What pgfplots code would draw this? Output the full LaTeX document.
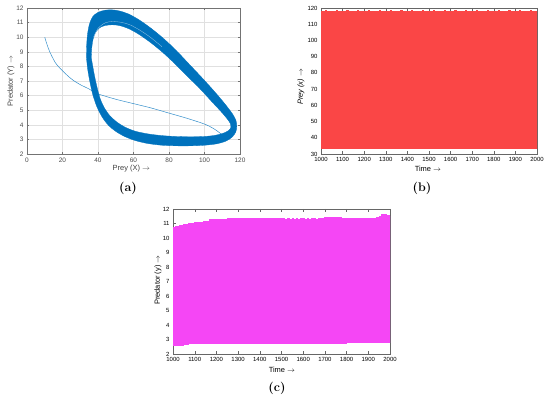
\documentclass[border=0pt]{standalone}
\usepackage{pgfplots}
\pgfplotsset{compat=1.18}
\usepackage{fontspec}
\setsansfont{Liberation Sans}
\definecolor{matblue}{RGB}{0,114,189}
\definecolor{preyred}{RGB}{250,70,70}
\definecolor{predmag}{RGB}{245,70,245}
\begin{document}
\begin{tikzpicture}
\path[use as bounding box] (0bp,0bp) rectangle (550bp,399bp);
\pgfplotsset{
  every axis/.append style={scale only axis, anchor=south west,
    /pgf/number format/assume math mode=true,
    /pgf/number format/1000 sep={},
    tick align=inside,
    ticklabel style={font=\sffamily\fontsize{6}{7}\selectfont},
    label style={font=\sffamily\fontsize{7.5}{9}\selectfont},
  }
}
% ---------------- (a) phase portrait ----------------
\begin{axis}[at={(27bp,245bp)}, width=213bp, height=146bp,
  xmin=0, xmax=120, ymin=2, ymax=12,
  xtick={0,20,...,120}, ytick={2,3,...,12},
  grid=major, major grid style={black!12, line width=0.4bp},
  axis line style={black!55, line width=0.5bp},
  major tick style={black!55, line width=0.4bp}, major tick length=2bp,
  ticklabel style={text=black!70, font=\sffamily\fontsize{6.5}{7}\selectfont},
  xlabel={Prey (X) $\rightarrow$}, ylabel={Predator (Y) $\rightarrow$},
  xlabel style={at={(axis description cs:0.49,-0.103)}, anchor=center, text=black!75},
  ylabel style={at={(axis description cs:-0.075,0.5)}, anchor=center, text=black!75},
]
\addplot[matblue!80, line width=0.5bp, smooth] coordinates {
(10,10)(11,9.6)(12,9.25)(13,8.95)(14,8.7)(16,8.25)(18,7.95)(20,7.7)(23,7.35)(26,7.05)
(30,6.75)(35,6.45)(40,6.12)(50,5.75)(60,5.45)(70,5.15)(80,4.8)(90,4.45)(100,4.05)
(105,3.75)(108,3.5)(110,3.3)};
\addplot[draw=matblue, line width=0.3bp, fill=matblue, even odd rule, smooth, tension=0.5, unbounded coords=jump] coordinates {
(33.5,8.6)(33.6,9.4)(34.1,10.2)(35.2,10.9)(37,11.4)(40,11.7)(44,11.85)(48,11.87)(52,11.8)
(57,11.6)(63,11.2)(70,10.6)(77,9.9)(84,9.1)(91,8.2)(98,7.3)(104,6.5)(109,5.8)(113,5.2)
(116,4.7)(117.7,4.3)(118.2,3.9)(117.6,3.5)(115.5,3.15)(112,2.88)(107,2.7)(100,2.6)(92,2.56)
(84,2.56)(76,2.6)(68,2.72)(61,2.92)(55,3.2)(50,3.55)(46,3.95)(42.5,4.5)(39.5,5.2)(37.2,6.0)
(35.5,6.9)(34.2,7.8)(33.5,8.6)
(nan,nan)
(36.2,8.6)(36.5,9.3)(37.3,9.9)(38.8,10.35)(41,10.65)(44,10.8)(48,10.85)(52,10.8)(57,10.6)
(63,10.2)(70,9.6)(77,8.9)(84,8.1)(91,7.25)(98,6.4)(104,5.6)(109,4.95)(112.5,4.45)(114.5,4.1)
(114.8,3.8)(113.5,3.6)(110.5,3.42)(106,3.28)(100,3.2)(92,3.18)(84,3.2)(76,3.26)(68,3.38)
(61,3.56)(55,3.85)(50.5,4.2)(46.5,4.65)(43.5,5.18)(41.2,5.8)(39.4,6.6)(37.8,7.5)(36.2,8.6)};
\addplot[white, opacity=0.6, line width=0.3bp, smooth] coordinates {
(37.5,10.0)(40,10.6)(44,10.98)(48,11.07)(53,11.02)(58,10.85)(64,10.45)(70,9.95)(76,9.35)};
\end{axis}
% ---------------- (b) prey time series ----------------
\begin{axis}[at={(321bp,245bp)}, width=216bp, height=146bp,
  xmin=1000, xmax=2000, ymin=30, ymax=120,
  xtick={1000,1100,...,2000}, ytick={30,40,...,120},
  axis line style={black!60, line width=0.5bp},
  major tick style={black!60, line width=0.4bp}, major tick length=3bp,
  xlabel={Time $\rightarrow$}, ylabel={\itshape Prey (x) $\rightarrow$},
  xlabel style={at={(axis description cs:0.495,-0.103)}, anchor=center},
  ylabel style={at={(axis description cs:-0.093,0.46)}, anchor=center},
]
\addplot[preyred, line width=1.2bp] coordinates {
(1000,33.5)(1000,118)(1005,118)(1005,33.6)(1010,33.6)(1010,117.9)(1015,117.9)(1015,33.4)(1020,33.4)(1020,118.1)(1025,118.1)(1025,33.5)(1030,33.5)(1030,118)(1035,118)(1035,33.6)(1040,33.6)(1040,117.9)(1045,117.9)(1045,33.5)
(1050,33.5)(1050,118)(1055,118)(1055,33.6)(1060,33.6)(1060,117.9)(1065,117.9)(1065,33.4)(1070,33.4)(1070,118.1)(1075,118.1)(1075,33.5)(1080,33.5)(1080,118)(1085,118)(1085,33.6)(1090,33.6)(1090,117.9)(1095,117.9)(1095,33.5)
(1100,33.5)(1100,118)(1105,118)(1105,33.6)(1110,33.6)(1110,117.9)(1115,117.9)(1115,33.4)(1120,33.4)(1120,118.1)(1125,118.1)(1125,33.5)(1130,33.5)(1130,118)(1135,118)(1135,33.6)(1140,33.6)(1140,117.9)(1145,117.9)(1145,33.5)
(1150,33.5)(1150,118)(1155,118)(1155,33.6)(1160,33.6)(1160,117.9)(1165,117.9)(1165,33.4)(1170,33.4)(1170,118.1)(1175,118.1)(1175,33.5)(1180,33.5)(1180,118)(1185,118)(1185,33.6)(1190,33.6)(1190,117.9)(1195,117.9)(1195,33.5)
(1200,33.5)(1200,118)(1205,118)(1205,33.6)(1210,33.6)(1210,117.9)(1215,117.9)(1215,33.4)(1220,33.4)(1220,118.1)(1225,118.1)(1225,33.5)(1230,33.5)(1230,118)(1235,118)(1235,33.6)(1240,33.6)(1240,117.9)(1245,117.9)(1245,33.5)
(1250,33.5)(1250,118)(1255,118)(1255,33.6)(1260,33.6)(1260,117.9)(1265,117.9)(1265,33.4)(1270,33.4)(1270,118.1)(1275,118.1)(1275,33.5)(1280,33.5)(1280,118)(1285,118)(1285,33.6)(1290,33.6)(1290,117.9)(1295,117.9)(1295,33.5)
(1300,33.5)(1300,118)(1305,118)(1305,33.6)(1310,33.6)(1310,117.9)(1315,117.9)(1315,33.4)(1320,33.4)(1320,118.1)(1325,118.1)(1325,33.5)(1330,33.5)(1330,118)(1335,118)(1335,33.6)(1340,33.6)(1340,117.9)(1345,117.9)(1345,33.5)
(1350,33.5)(1350,118)(1355,118)(1355,33.6)(1360,33.6)(1360,117.9)(1365,117.9)(1365,33.4)(1370,33.4)(1370,118.1)(1375,118.1)(1375,33.5)(1380,33.5)(1380,118)(1385,118)(1385,33.6)(1390,33.6)(1390,117.9)(1395,117.9)(1395,33.5)
(1400,33.5)(1400,118)(1405,118)(1405,33.6)(1410,33.6)(1410,117.9)(1415,117.9)(1415,33.4)(1420,33.4)(1420,118.1)(1425,118.1)(1425,33.5)(1430,33.5)(1430,118)(1435,118)(1435,33.6)(1440,33.6)(1440,117.9)(1445,117.9)(1445,33.5)
(1450,33.5)(1450,118)(1455,118)(1455,33.6)(1460,33.6)(1460,117.9)(1465,117.9)(1465,33.4)(1470,33.4)(1470,118.1)(1475,118.1)(1475,33.5)(1480,33.5)(1480,118)(1485,118)(1485,33.6)(1490,33.6)(1490,117.9)(1495,117.9)(1495,33.5)
(1500,33.5)(1500,118)(1505,118)(1505,33.6)(1510,33.6)(1510,117.9)(1515,117.9)(1515,33.4)(1520,33.4)(1520,118.1)(1525,118.1)(1525,33.5)(1530,33.5)(1530,118)(1535,118)(1535,33.6)(1540,33.6)(1540,117.9)(1545,117.9)(1545,33.5)
(1550,33.5)(1550,118)(1555,118)(1555,33.6)(1560,33.6)(1560,117.9)(1565,117.9)(1565,33.4)(1570,33.4)(1570,118.1)(1575,118.1)(1575,33.5)(1580,33.5)(1580,118)(1585,118)(1585,33.6)(1590,33.6)(1590,117.9)(1595,117.9)(1595,33.5)
(1600,33.5)(1600,118)(1605,118)(1605,33.6)(1610,33.6)(1610,117.9)(1615,117.9)(1615,33.4)(1620,33.4)(1620,118.1)(1625,118.1)(1625,33.5)(1630,33.5)(1630,118)(1635,118)(1635,33.6)(1640,33.6)(1640,117.9)(1645,117.9)(1645,33.5)
(1650,33.5)(1650,118)(1655,118)(1655,33.6)(1660,33.6)(1660,117.9)(1665,117.9)(1665,33.4)(1670,33.4)(1670,118.1)(1675,118.1)(1675,33.5)(1680,33.5)(1680,118)(1685,118)(1685,33.6)(1690,33.6)(1690,117.9)(1695,117.9)(1695,33.5)
(1700,33.5)(1700,118)(1705,118)(1705,33.6)(1710,33.6)(1710,117.9)(1715,117.9)(1715,33.4)(1720,33.4)(1720,118.1)(1725,118.1)(1725,33.5)(1730,33.5)(1730,118)(1735,118)(1735,33.6)(1740,33.6)(1740,117.9)(1745,117.9)(1745,33.5)
(1750,33.5)(1750,118)(1755,118)(1755,33.6)(1760,33.6)(1760,117.9)(1765,117.9)(1765,33.4)(1770,33.4)(1770,118.1)(1775,118.1)(1775,33.5)(1780,33.5)(1780,118)(1785,118)(1785,33.6)(1790,33.6)(1790,117.9)(1795,117.9)(1795,33.5)
(1800,33.5)(1800,118)(1805,118)(1805,33.6)(1810,33.6)(1810,117.9)(1815,117.9)(1815,33.4)(1820,33.4)(1820,118.1)(1825,118.1)(1825,33.5)(1830,33.5)(1830,118)(1835,118)(1835,33.6)(1840,33.6)(1840,117.9)(1845,117.9)(1845,33.5)
(1850,33.5)(1850,118)(1855,118)(1855,33.6)(1860,33.6)(1860,117.9)(1865,117.9)(1865,33.4)(1870,33.4)(1870,118.1)(1875,118.1)(1875,33.5)(1880,33.5)(1880,118)(1885,118)(1885,33.6)(1890,33.6)(1890,117.9)(1895,117.9)(1895,33.5)
(1900,33.5)(1900,118)(1905,118)(1905,33.6)(1910,33.6)(1910,117.9)(1915,117.9)(1915,33.4)(1920,33.4)(1920,118.1)(1925,118.1)(1925,33.5)(1930,33.5)(1930,118)(1935,118)(1935,33.6)(1940,33.6)(1940,117.9)(1945,117.9)(1945,33.5)
(1950,33.5)(1950,118)(1955,118)(1955,33.6)(1960,33.6)(1960,117.9)(1965,117.9)(1965,33.4)(1970,33.4)(1970,118.1)(1975,118.1)(1975,33.5)(1980,33.5)(1980,118)(1985,118)(1985,33.6)(1990,33.6)(1990,117.9)(1995,117.9)(1995,33.5)
(2000,33.5)(2000,118)};
\end{axis}
% ---------------- (c) predator time series ----------------
\begin{axis}[at={(173bp,45bp)}, width=217bp, height=145bp,
  xmin=1000, xmax=2000, ymin=2, ymax=12,
  xtick={1000,1100,...,2000}, ytick={2,3,...,12},
  axis line style={black!60, line width=0.5bp},
  major tick style={black!60, line width=0.4bp}, major tick length=3bp,
  xlabel={Time $\rightarrow$}, ylabel={Predator (y) $\rightarrow$},
  xlabel style={at={(axis description cs:0.502,-0.11)}, anchor=center},
  ylabel style={at={(axis description cs:-0.069,0.51)}, anchor=center},
]
\addplot[predmag, line width=1.2bp] coordinates {
(1000,2.58)(1000,10.75)(1005,10.75)(1005,2.58)(1010,2.58)(1010,10.78)(1015,10.78)(1015,2.58)(1020,2.58)(1020,10.8)(1025,10.8)(1025,2.58)(1030,2.58)(1030,10.84)(1035,10.84)(1035,2.58)(1040,2.58)(1040,10.87)(1045,10.87)(1045,2.6)
(1050,2.6)(1050,10.9)(1055,10.9)(1055,2.65)(1060,2.65)(1060,10.94)(1065,10.94)(1065,2.68)(1070,2.68)(1070,10.97)(1075,10.97)(1075,2.7)(1080,2.7)(1080,11.0)(1085,11.0)(1085,2.7)(1090,2.7)(1090,11.02)(1095,11.02)(1095,2.7)
(1100,2.7)(1100,11.03)(1105,11.03)(1105,2.7)(1110,2.7)(1110,11.05)(1115,11.05)(1115,2.7)(1120,2.7)(1120,11.06)(1125,11.06)(1125,2.7)(1130,2.7)(1130,11.08)(1135,11.08)(1135,2.7)(1140,2.7)(1140,11.1)(1145,11.1)(1145,2.7)
(1150,2.7)(1150,11.12)(1155,11.12)(1155,2.7)(1160,2.7)(1160,11.15)(1165,11.15)(1165,2.7)(1170,2.7)(1170,11.24)(1175,11.24)(1175,2.7)(1180,2.7)(1180,11.26)(1185,11.26)(1185,2.7)(1190,2.7)(1190,11.27)(1195,11.27)(1195,2.7)
(1200,2.7)(1200,11.28)(1205,11.28)(1205,2.7)(1210,2.7)(1210,11.28)(1215,11.28)(1215,2.7)(1220,2.7)(1220,11.29)(1225,11.29)(1225,2.7)(1230,2.7)(1230,11.3)(1235,11.3)(1235,2.7)(1240,2.7)(1240,11.3)(1245,11.3)(1245,2.7)
(1250,2.7)(1250,11.31)(1255,11.31)(1255,2.7)(1260,2.7)(1260,11.31)(1265,11.31)(1265,2.7)(1270,2.7)(1270,11.32)(1275,11.32)(1275,2.7)(1280,2.7)(1280,11.32)(1285,11.32)(1285,2.7)(1290,2.7)(1290,11.32)(1295,11.32)(1295,2.7)
(1300,2.7)(1300,11.33)(1305,11.33)(1305,2.7)(1310,2.7)(1310,11.33)(1315,11.33)(1315,2.7)(1320,2.7)(1320,11.34)(1325,11.34)(1325,2.7)(1330,2.7)(1330,11.33)(1335,11.33)(1335,2.7)(1340,2.7)(1340,11.34)(1345,11.34)(1345,2.7)
(1350,2.7)(1350,11.33)(1355,11.33)(1355,2.7)(1360,2.7)(1360,11.33)(1365,11.33)(1365,2.7)(1370,2.7)(1370,11.34)(1375,11.34)(1375,2.7)(1380,2.7)(1380,11.33)(1385,11.33)(1385,2.7)(1390,2.7)(1390,11.34)(1395,11.34)(1395,2.7)
(1400,2.7)(1400,11.33)(1405,11.33)(1405,2.7)(1410,2.7)(1410,11.33)(1415,11.33)(1415,2.7)(1420,2.7)(1420,11.34)(1425,11.34)(1425,2.7)(1430,2.7)(1430,11.33)(1435,11.33)(1435,2.7)(1440,2.7)(1440,11.34)(1445,11.34)(1445,2.7)
(1450,2.7)(1450,11.33)(1455,11.33)(1455,2.7)(1460,2.7)(1460,11.33)(1465,11.33)(1465,2.7)(1470,2.7)(1470,11.34)(1475,11.34)(1475,2.7)(1480,2.7)(1480,11.33)(1485,11.33)(1485,2.7)(1490,2.7)(1490,11.34)(1495,11.34)(1495,2.7)
(1500,2.7)(1500,11.32)(1505,11.32)(1505,2.7)(1510,2.7)(1510,11.31)(1515,11.31)(1515,2.7)(1520,2.7)(1520,11.3)(1525,11.3)(1525,2.7)(1530,2.7)(1530,11.31)(1535,11.31)(1535,2.7)(1540,2.7)(1540,11.3)(1545,11.3)(1545,2.7)
(1550,2.7)(1550,11.31)(1555,11.31)(1555,2.7)(1560,2.7)(1560,11.3)(1565,11.3)(1565,2.7)(1570,2.7)(1570,11.31)(1575,11.31)(1575,2.7)(1580,2.7)(1580,11.3)(1585,11.3)(1585,2.7)(1590,2.7)(1590,11.31)(1595,11.31)(1595,2.7)
(1600,2.7)(1600,11.31)(1605,11.31)(1605,2.7)(1610,2.7)(1610,11.3)(1615,11.3)(1615,2.7)(1620,2.7)(1620,11.31)(1625,11.31)(1625,2.7)(1630,2.7)(1630,11.3)(1635,11.3)(1635,2.7)(1640,2.7)(1640,11.31)(1645,11.31)(1645,2.7)
(1650,2.7)(1650,11.31)(1655,11.31)(1655,2.7)(1660,2.7)(1660,11.3)(1665,11.3)(1665,2.7)(1670,2.7)(1670,11.32)(1675,11.32)(1675,2.7)(1680,2.7)(1680,11.34)(1685,11.34)(1685,2.7)(1690,2.7)(1690,11.36)(1695,11.36)(1695,2.7)
(1700,2.7)(1700,11.38)(1705,11.38)(1705,2.73)(1710,2.73)(1710,11.4)(1715,11.4)(1715,2.75)(1720,2.75)(1720,11.41)(1725,11.41)(1725,2.75)(1730,2.75)(1730,11.42)(1735,11.42)(1735,2.75)(1740,2.75)(1740,11.42)(1745,11.42)(1745,2.75)
(1750,2.75)(1750,11.41)(1755,11.41)(1755,2.75)(1760,2.75)(1760,11.4)(1765,11.4)(1765,2.75)(1770,2.75)(1770,11.38)(1775,11.38)(1775,2.75)(1780,2.75)(1780,11.36)(1785,11.36)(1785,2.75)(1790,2.75)(1790,11.35)(1795,11.35)(1795,2.75)
(1800,2.75)(1800,11.35)(1805,11.35)(1805,2.8)(1810,2.8)(1810,11.34)(1815,11.34)(1815,2.8)(1820,2.8)(1820,11.34)(1825,11.34)(1825,2.8)(1830,2.8)(1830,11.34)(1835,11.34)(1835,2.8)(1840,2.8)(1840,11.34)(1845,11.34)(1845,2.8)
(1850,2.8)(1850,11.34)(1855,11.34)(1855,2.8)(1860,2.8)(1860,11.34)(1865,11.34)(1865,2.8)(1870,2.8)(1870,11.34)(1875,11.34)(1875,2.8)(1880,2.8)(1880,11.34)(1885,11.34)(1885,2.8)(1890,2.8)(1890,11.34)(1895,11.34)(1895,2.8)
(1900,2.8)(1900,11.34)(1905,11.34)(1905,2.8)(1910,2.8)(1910,11.34)(1915,11.34)(1915,2.8)(1920,2.8)(1920,11.34)(1925,11.34)(1925,2.8)(1930,2.8)(1930,11.34)(1935,11.34)(1935,2.8)(1940,2.8)(1940,11.38)(1945,11.38)(1945,2.8)
(1950,2.8)(1950,11.5)(1955,11.5)(1955,2.78)(1960,2.78)(1960,11.6)(1965,11.6)(1965,2.78)(1970,2.78)(1970,11.62)(1975,11.62)(1975,2.78)(1980,2.78)(1980,11.6)(1985,11.6)(1985,2.78)(1990,2.78)(1990,11.56)(1995,11.56)(1995,2.78)
(2000,2.78)(2000,11.5)};
\end{axis}
\node[font=\bfseries\fontsize{12.5}{14}\selectfont] at (128bp,211bp) {(a)};
\node[font=\bfseries\fontsize{12.5}{14}\selectfont] at (422bp,211bp) {(b)};
\node[font=\bfseries\fontsize{12.5}{14}\selectfont] at (277bp,11bp) {(c)};
\end{tikzpicture}
\end{document}
